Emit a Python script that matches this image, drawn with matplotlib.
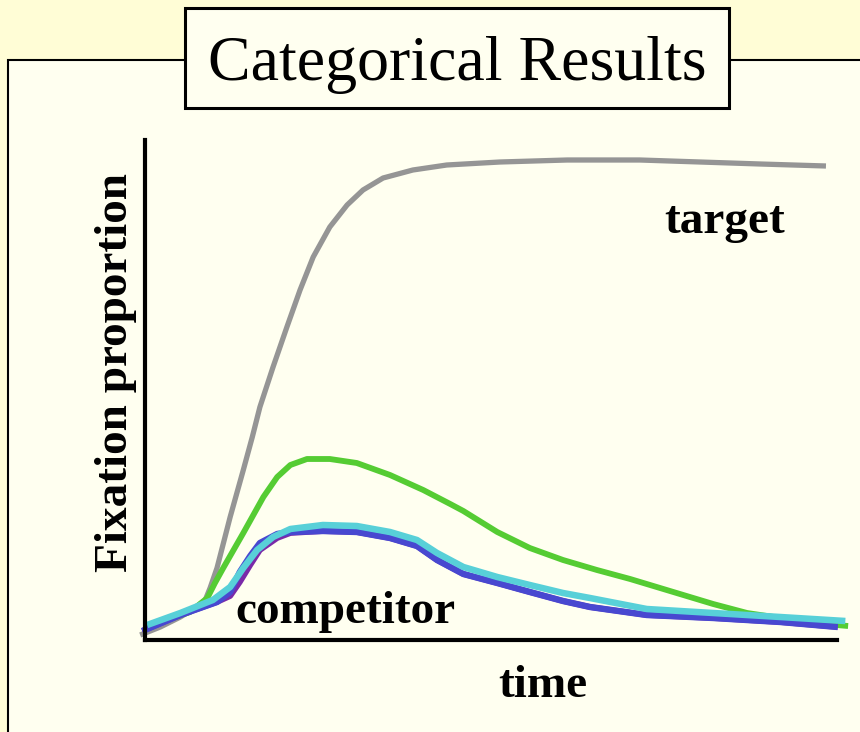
import matplotlib
matplotlib.use("Agg")
import matplotlib.pyplot as plt
from matplotlib.patches import Rectangle

plt.rcParams['font.family'] = ['Liberation Serif', 'DejaVu Serif']

# time (arbitrary units, 0-100) and fixation proportion
target_t = [-0.7, 2.2, 5.1, 7.2, 8.7, 9.4, 10.4, 12.3, 14.2, 15.5, 16.6, 18.5,
            20.5, 22.4, 24.3, 26.7, 29.2, 31.5, 34.4, 38.7, 43.6, 51.3, 61.0,
            71.5, 80.2, 88.9, 98.4]
target_y = [0.010, 0.026, 0.046, 0.064, 0.080, 0.104, 0.144, 0.246, 0.340, 0.406,
            0.466, 0.546, 0.626, 0.700, 0.766, 0.826, 0.870, 0.900, 0.924, 0.940,
            0.950, 0.956, 0.960, 0.960, 0.956, 0.952, 0.948]

green_t = [0.0, 3.6, 6.5, 9.0, 10.1, 11.3, 14.2, 17.1, 19.1, 21.0, 23.4, 26.7,
           30.6, 35.4, 40.2, 44.1, 46.0, 50.9, 55.6, 60.4, 65.3, 70.1, 77.3, 82.1,
           87.0, 91.8, 96.5, 101.6]
green_y = [0.024, 0.042, 0.056, 0.084, 0.114, 0.144, 0.214, 0.286, 0.326, 0.350,
           0.362, 0.362, 0.354, 0.330, 0.300, 0.272, 0.258, 0.216, 0.184, 0.160,
           0.140, 0.122, 0.092, 0.072, 0.054, 0.044, 0.034, 0.028]

cyan_t = [0.3, 5.1, 9.8, 12.3, 14.2, 16.2, 18.5, 21.0, 25.7, 30.6, 35.4, 39.3,
          42.2, 44.1, 46.0, 50.9, 55.6, 60.4, 64.3, 72.5, 82.1, 91.8, 101.2]
cyan_y = [0.030, 0.054, 0.080, 0.106, 0.144, 0.180, 0.206, 0.222, 0.230, 0.228,
          0.216, 0.200, 0.174, 0.160, 0.146, 0.126, 0.110, 0.094, 0.084, 0.062,
          0.054, 0.046, 0.038]

blue_t = [-0.4, 5.1, 10.4, 12.3, 13.7, 15.2, 16.6, 19.1, 21.0, 25.7, 30.6, 35.4,
          39.3, 42.2, 44.1, 46.0, 50.9, 55.6, 60.4, 64.3, 72.5, 82.1, 91.8, 100.1]
blue_y = [0.018, 0.050, 0.076, 0.096, 0.136, 0.168, 0.194, 0.212, 0.216, 0.218,
          0.216, 0.204, 0.188, 0.160, 0.146, 0.132, 0.114, 0.096, 0.078, 0.066,
          0.050, 0.044, 0.036, 0.026]

purple_t = blue_t
purple_y = [0.018, 0.050, 0.076, 0.088, 0.116, 0.150, 0.180, 0.204, 0.214, 0.218,
            0.216, 0.204, 0.188, 0.160, 0.146, 0.132, 0.114, 0.096, 0.078, 0.066,
            0.050, 0.044, 0.036, 0.026]

W, H = 860, 732
outer_bg = '#FFFDD6'
inner_bg = '#FFFFF0'

fig = plt.figure(figsize=(W / 100, H / 100), dpi=100)
fig.patch.set_facecolor(outer_bg)

# frame around the slide body
fig.patches.append(Rectangle((8 / W, -0.05), 1.1, (H - 60) / H + 0.05,
                             transform=fig.transFigure, facecolor=inner_bg,
                             edgecolor='black', linewidth=1.5, zorder=-10))
# title box
fig.patches.append(Rectangle((185 / W, 1 - 108 / H), (729 - 185) / W, 100 / H,
                             transform=fig.transFigure, facecolor=inner_bg,
                             edgecolor='black', linewidth=2.2, zorder=-5))
fig.text(457 / W, 1 - 80 / H, 'Categorical Results', fontsize=46,
         ha='center', va='baseline', zorder=2)

ax = fig.add_axes([131.2 / W, 1 - 650 / H, 726.6 / W, 520 / H])
ax.set_zorder(1)
ax.set_facecolor('none')
ax.set_xlim(-2, 103)
ax.set_ylim(-0.02, 1.02)

style = dict(solid_capstyle='butt', solid_joinstyle='round')
ax.plot(target_t, target_y, color='#959595', lw=3.8, **style)
ax.plot(green_t, green_y, color='#55CC33', lw=4.2, **style)
ax.plot(purple_t, purple_y, color='#7A2AA8', lw=4.2, **style)
ax.plot(blue_t, blue_y, color='#4848D0', lw=4.6, **style)
ax.plot(cyan_t, cyan_y, color='#58D0D8', lw=4.7, **style)

for s in ['top', 'right']:
    ax.spines[s].set_visible(False)
ax.spines['left'].set_position(('data', 0))
ax.spines['bottom'].set_position(('data', 0))
ax.spines['left'].set_bounds(0, 1.0)
ax.spines['bottom'].set_bounds(0, 100)
for s in ['left', 'bottom']:
    ax.spines[s].set_linewidth(3)
    ax.spines[s].set_capstyle('projecting')
ax.set_xticks([])
ax.set_yticks([])

ax.text(83.8, 0.814, 'target', fontsize=34, fontweight='bold', ha='center', va='baseline')
ax.text(28.9, 0.034, 'competitor', fontsize=34, fontweight='bold', ha='center', va='baseline')
fig.text(543 / W, 1 - 697 / H, 'time', fontsize=34, fontweight='bold',
         ha='center', va='baseline')
fig.text(116 / W, 1 - 372 / H, 'Fixation proportion', fontsize=34, fontweight='bold',
         rotation=90, ha='center', va='center')

fig.savefig('out.png', dpi=100, facecolor=fig.get_facecolor())
